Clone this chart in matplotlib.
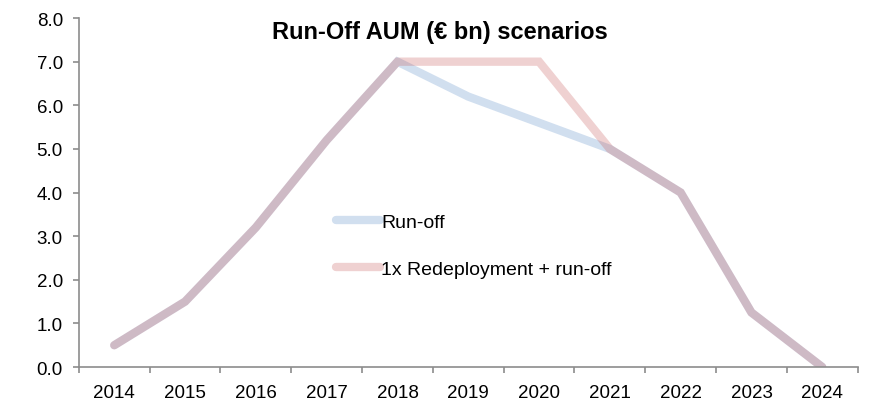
import matplotlib
matplotlib.use("Agg")
import matplotlib.pyplot as plt
import numpy as np

plt.rcParams['font.family'] = ['Liberation Sans', 'DejaVu Sans']

years = ['2014', '2015', '2016', '2017', '2018', '2019', '2020', '2021', '2022', '2023', '2024']
run_off = [0.5, 1.5, 3.2, 5.2, 7.0, 6.2, 5.6, 5.0, 4.0, 1.25, 0.0]
redeploy = [0.5, 1.5, 3.2, 5.2, 7.0, 7.0, 7.0, 5.0, 4.0, 1.25, 0.0]

fig = plt.figure(figsize=(8.86, 4.14), dpi=100)
ax = fig.add_axes([0.089, 0.111, 0.879, 0.843])

x = np.arange(len(years))
ax.plot(x, run_off, color=(90/255, 140/255, 200/255), alpha=0.28, lw=6,
        solid_capstyle='round', solid_joinstyle='miter', label='Run-off')
ax.plot(x, redeploy, color=(200/255, 90/255, 90/255), alpha=0.28, lw=6,
        solid_capstyle='round', solid_joinstyle='miter', label='1x Redeployment + run-off')

ax.set_xlim(-0.5, len(years) - 0.5)
ax.set_ylim(0, 8)
ax.set_yticks(np.arange(0, 9, 1))
ax.set_yticklabels(['%.1f' % v for v in np.arange(0, 9, 1)], fontsize=13.5)

ax.set_xticks(np.arange(-0.5, len(years), 1))
ax.set_xticklabels([])
ax.set_xticks(x, minor=True)
ax.set_xticklabels(years, minor=True, fontsize=13.5)
ax.tick_params(axis='x', which='minor', length=0, pad=12)
ax.tick_params(axis='x', which='major', length=4.5, color='#8c8c8c', width=1.2)
ax.tick_params(axis='y', length=4.5, color='#8c8c8c', width=1.2, pad=7)

for s in ['top', 'right']:
    ax.spines[s].set_visible(False)
for s in ['left', 'bottom']:
    ax.spines[s].set_color('#8c8c8c')
    ax.spines[s].set_linewidth(1.2)

fig.text(0.497, 0.922, 'Run-Off AUM (€ bn) scenarios', ha='center', va='center',
         fontsize=17, fontweight='bold')

leg = ax.legend(loc='upper left', bbox_to_anchor=(0.33, 0.44), frameon=False,
                fontsize=14, handlelength=2.27, handletextpad=0.05,
                labelspacing=1.5, borderaxespad=0, borderpad=0)

fig.savefig('out.png', dpi=100)
